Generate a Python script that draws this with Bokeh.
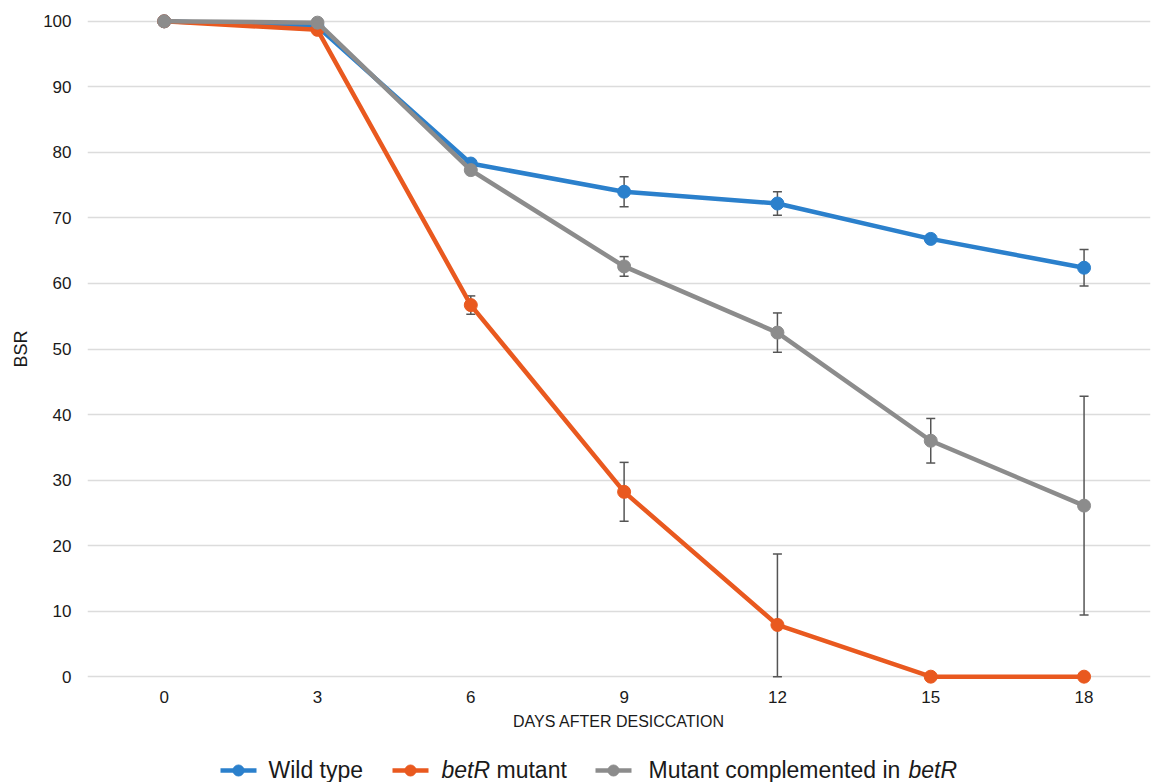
from bokeh.plotting import figure
from bokeh.models import (ColumnDataSource, Range1d, FixedTicker, Whisker, TeeHead)
from bokeh.layouts import column
from bokeh.core.properties import value
from bokeh.embed import file_html
from bokeh.resources import INLINE

# ---------------- data ----------------
days = [0, 3, 6, 9, 12, 15, 18]
wild = [100, 99.2, 78.3, 74.0, 72.2, 66.8, 62.4]
wild_err = [0, 0.5, 0.6, 2.3, 1.8, 0.6, 2.8]
mutant = [100, 98.7, 56.7, 28.2, 7.9, 0, 0]
mutant_err = [0, 0.5, 1.4, 4.5, 10.8, 0, 0]
comp = [100, 99.8, 77.3, 62.6, 52.5, 36.0, 26.1]
comp_err = [0, 0.3, 0.5, 1.5, 3.0, 3.4, 16.7]
y_ticks = [0, 10, 20, 30, 40, 50, 60, 70, 80, 90, 100]

series = [
    ("Wild type", wild, wild_err, "#2b80cc"),
    ("betR mutant", mutant, mutant_err, "#e9591f"),
    ("Mutant complemented in betR", comp, comp_err, "#8c8c8c"),
]

FONT = "Liberation Sans"
TXT = "#1a1a1a"
LEFT, RIGHT = 87, 2

p = figure(width=1152, height=740, output_backend="svg", toolbar_location=None,
           x_range=Range1d(-1.5, 19.3), y_range=Range1d(-1.5, 101.5),
           min_border_left=LEFT, min_border_right=RIGHT, min_border_top=11, min_border_bottom=54)
p.outline_line_color = None
p.background_fill_color = "white"
p.border_fill_color = "white"

p.xgrid.grid_line_color = None
p.ygrid.grid_line_color = "#dcdcdc"
p.ygrid.grid_line_width = 1.5

p.xaxis.ticker = FixedTicker(ticks=days)
p.yaxis.ticker = FixedTicker(ticks=y_ticks)
for ax in (p.xaxis, p.yaxis):
    ax.axis_line_color = None
    ax.major_tick_line_color = None
    ax.minor_tick_line_color = None
    ax.major_tick_out = 0
    ax.major_label_text_font = FONT
    ax.major_label_text_font_size = "17px"
    ax.major_label_text_color = TXT
    ax.axis_label_text_font = FONT
    ax.axis_label_text_font_style = "normal"
    ax.axis_label_text_color = TXT

p.xaxis.major_label_standoff = 4
p.xaxis.axis_label = "DAYS AFTER DESICCATION"
p.xaxis.axis_label_text_font_size = "16px"
p.xaxis.axis_label_standoff = 7

p.yaxis.major_label_standoff = 16
p.yaxis.axis_label = "BSR"
p.yaxis.axis_label_text_font_size = "18px"
p.yaxis.axis_label_standoff = 9

# error bars (under the lines)
for name, vals, errs, col in series:
    xs = [d for d, e in zip(days, errs) if e > 0]
    up = [v + e for v, e in zip(vals, errs) if e > 0]
    lo = [max(v - e, 0) for v, e in zip(vals, errs) if e > 0]
    src = ColumnDataSource(dict(x=xs, upper=up, lower=lo))
    w = Whisker(base="x", upper="upper", lower="lower", source=src, level="underlay",
                line_color="#555555", line_width=1.5,
                upper_head=TeeHead(size=9, line_color="#555555", line_width=1.5),
                lower_head=TeeHead(size=9, line_color="#555555", line_width=1.5))
    p.add_layout(w)

for name, vals, errs, col in series:
    src = ColumnDataSource(dict(x=days, y=vals))
    p.line("x", "y", source=src, line_color=col, line_width=4.5)
    p.scatter("x", "y", source=src, size=13, fill_color=col, line_color=col)

# ---------------- legend (mixed italic text) ----------------
leg = figure(width=1152, height=42, output_backend="svg", toolbar_location=None,
             title=None,
             x_range=Range1d(LEFT, 1152 - RIGHT), y_range=Range1d(0, 42),
             min_border_left=LEFT, min_border_right=RIGHT,
             min_border_top=0, min_border_bottom=0)
leg.outline_line_color = None
leg.background_fill_color = "white"
leg.border_fill_color = "white"
leg.xaxis.visible = False
leg.yaxis.visible = False
leg.grid.visible = False

icon_x0 = [220, 392, 595]
icon_y = 12
for (name, vals, errs, col), x0 in zip(series, icon_x0):
    leg.segment(x0=[x0], y0=[icon_y], x1=[x0 + 36], y1=[icon_y], line_color=col, line_width=4.5)
    leg.scatter(x=[x0 + 18], y=[icon_y], size=11, fill_color=col, line_color=col)

parts = [
    (268, "Wild type", "normal"),
    (441, "betR", "italic"),
    (496, "mutant", "normal"),
    (648, "Mutant complemented in", "normal"),
    (908, "betR", "italic"),
]
for x, t, style in parts:
    leg.text(x=[x], y=[icon_y + 1], text=[t], text_font=value(FONT), text_font_size="23px",
             text_font_style=style, text_color=TXT, text_align="left",
             text_baseline="middle")

layout = column(p, leg)
open("out.html", "w").write(file_html(layout, INLINE))
